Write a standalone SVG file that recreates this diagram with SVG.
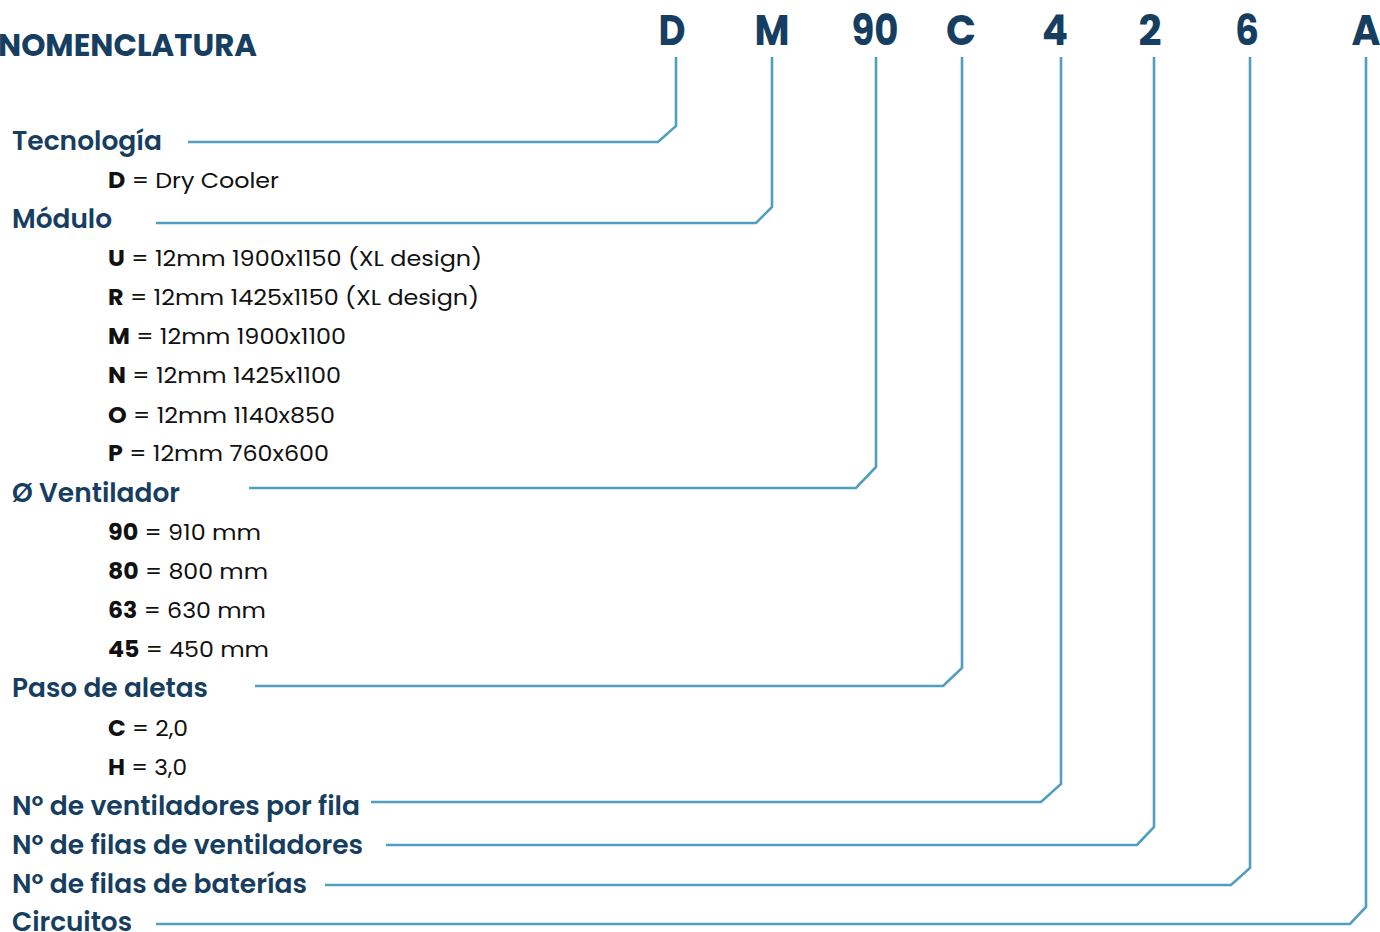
<svg xmlns="http://www.w3.org/2000/svg" width="1380" height="932" viewBox="0 0 1380 932">
<style>
.bg{fill:#ffffff}
.conn{fill:none;stroke:#509fbe;stroke-width:2.6;stroke-linejoin:miter}
.title{font-family:"Poppins","Inter","Noto Sans",sans-serif;font-weight:700;font-size:32px;fill:#163e61}
.code{font-family:"Poppins","Inter","Noto Sans",sans-serif;font-weight:700;font-size:42px;fill:#163e61;text-anchor:middle}
.head{font-family:"Poppins","Inter","Noto Sans",sans-serif;font-weight:600;font-size:26px;fill:#163e61}
.item{font-family:"Poppins","Inter","Noto Sans",sans-serif;font-weight:400;font-size:22px;fill:#111111}
.item .k{font-weight:700}
</style>
<rect class="bg" x="0" y="0" width="1380" height="932"/>
<g id="connectors">
<path class="conn" d="M676,57 V126 L658,142 H188"/>
<path class="conn" d="M772,57 V207 L756,223 H156"/>
<path class="conn" d="M876,57 V467 L856,488 H249"/>
<path class="conn" d="M962,57 V668 L943,686 H255"/>
<path class="conn" d="M1061,57 V784 L1041,802 H371"/>
<path class="conn" d="M1154,57 V827 L1137,845 H386"/>
<path class="conn" d="M1250,57 V868 L1231,885 H325"/>
<path class="conn" d="M1366,57 V907 L1350,924 H156"/>
</g>
<g id="title"><text class="title" x="-2" y="56" textLength="259" lengthAdjust="spacingAndGlyphs">NOMENCLATURA</text></g>
<g id="code">
<text class="code" x="672" y="45" textLength="27" lengthAdjust="spacingAndGlyphs">D</text>
<text class="code" x="772" y="45" textLength="35" lengthAdjust="spacingAndGlyphs">M</text>
<text class="code" x="875" y="45" textLength="47" lengthAdjust="spacingAndGlyphs">90</text>
<text class="code" x="961" y="45" textLength="30" lengthAdjust="spacingAndGlyphs">C</text>
<text class="code" x="1055" y="45" textLength="26" lengthAdjust="spacingAndGlyphs">4</text>
<text class="code" x="1150" y="45" textLength="23" lengthAdjust="spacingAndGlyphs">2</text>
<text class="code" x="1247" y="45" textLength="24" lengthAdjust="spacingAndGlyphs">6</text>
<text class="code" x="1366" y="45" textLength="29" lengthAdjust="spacingAndGlyphs">A</text>
</g>
<g id="tecnologia">
<text class="head" x="12" y="150" textLength="150" lengthAdjust="spacingAndGlyphs">Tecnología</text>
<text class="item" x="108" y="188" textLength="171" lengthAdjust="spacingAndGlyphs"><tspan class="k">D</tspan> = Dry Cooler</text>
</g>
<g id="modulo">
<text class="head" x="12" y="228" textLength="100" lengthAdjust="spacingAndGlyphs">Módulo</text>
<text class="item" x="108" y="266" textLength="374" lengthAdjust="spacingAndGlyphs"><tspan class="k">U</tspan> = 12mm 1900x1150 (XL design)</text>
<text class="item" x="108" y="305" textLength="371" lengthAdjust="spacingAndGlyphs"><tspan class="k">R</tspan> = 12mm 1425x1150 (XL design)</text>
<text class="item" x="108" y="344" textLength="238" lengthAdjust="spacingAndGlyphs"><tspan class="k">M</tspan> = 12mm 1900x1100</text>
<text class="item" x="108" y="383" textLength="233" lengthAdjust="spacingAndGlyphs"><tspan class="k">N</tspan> = 12mm 1425x1100</text>
<text class="item" x="108" y="423" textLength="227" lengthAdjust="spacingAndGlyphs"><tspan class="k">O</tspan> = 12mm 1140x850</text>
<text class="item" x="108" y="461" textLength="221" lengthAdjust="spacingAndGlyphs"><tspan class="k">P</tspan> = 12mm 760x600</text>
</g>
<g id="ventilador">
<text class="head" x="12" y="502" textLength="168" lengthAdjust="spacingAndGlyphs">Ø Ventilador</text>
<text class="item" x="108" y="540" textLength="153" lengthAdjust="spacingAndGlyphs"><tspan class="k">90</tspan> = 910 mm</text>
<text class="item" x="108" y="579" textLength="160" lengthAdjust="spacingAndGlyphs"><tspan class="k">80</tspan> = 800 mm</text>
<text class="item" x="108" y="618" textLength="158" lengthAdjust="spacingAndGlyphs"><tspan class="k">63</tspan> = 630 mm</text>
<text class="item" x="108" y="657" textLength="161" lengthAdjust="spacingAndGlyphs"><tspan class="k">45</tspan> = 450 mm</text>
</g>
<g id="paso">
<text class="head" x="12" y="697" textLength="196" lengthAdjust="spacingAndGlyphs">Paso de aletas</text>
<text class="item" x="108" y="736" textLength="80" lengthAdjust="spacingAndGlyphs"><tspan class="k">C</tspan> = 2,0</text>
<text class="item" x="108" y="775" textLength="79" lengthAdjust="spacingAndGlyphs"><tspan class="k">H</tspan> = 3,0</text>
</g>
<g id="ventiladores-fila"><text class="head" x="12" y="815" textLength="348" lengthAdjust="spacingAndGlyphs">Nº de ventiladores por fila</text></g>
<g id="filas-ventiladores"><text class="head" x="12" y="854" textLength="351" lengthAdjust="spacingAndGlyphs">Nº de filas de ventiladores</text></g>
<g id="filas-baterias"><text class="head" x="12" y="893" textLength="295" lengthAdjust="spacingAndGlyphs">Nº de filas de baterías</text></g>
<g id="circuitos"><text class="head" x="12" y="931" textLength="120" lengthAdjust="spacingAndGlyphs">Circuitos</text></g>
</svg>
